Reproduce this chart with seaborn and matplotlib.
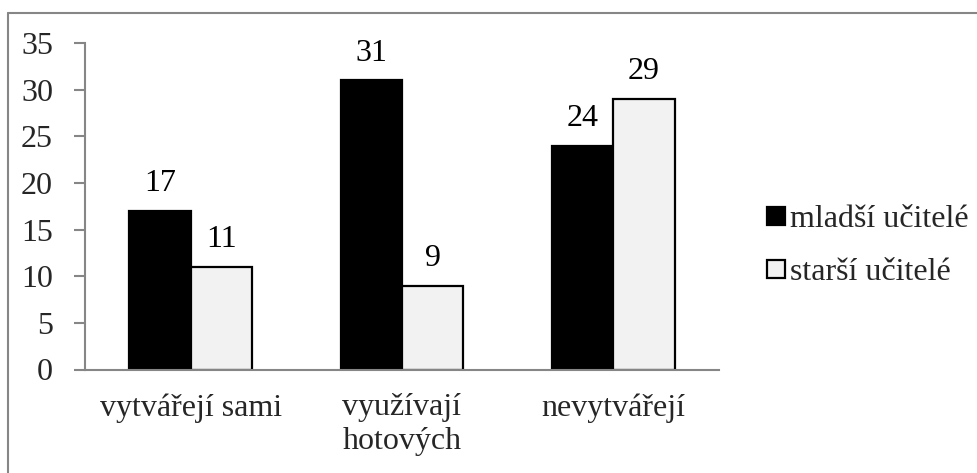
import pandas as pd
import matplotlib.pyplot as plt
import seaborn as sns
from matplotlib.lines import Line2D

# data
categories = ['vytvářejí sami', 'využívají\nhotových', 'nevytvářejí']
groups = ['mladší učitelé', 'starší učitelé']
mladsi = [17, 31, 24]
starsi = [11, 9, 29]

df = pd.DataFrame({
    'kategorie': categories * 2,
    'skupina': [groups[0]] * 3 + [groups[1]] * 3,
    'pocet': mladsi + starsi,
})

FS = 23

sns.set_theme(style='white')
plt.rcParams['font.family'] = ['Liberation Serif', 'DejaVu Serif']
plt.rcParams['font.size'] = FS

W, H = 977, 473
fig = plt.figure(figsize=(W / 100, H / 100), dpi=100)
ax = fig.add_axes([85 / W, 1 - 369.5 / H, (719 - 85) / W, (369.5 - 43) / H])

sns.barplot(data=df, x='kategorie', y='pocet', hue='skupina',
            palette=['#000000', '#f2f2f2'], width=0.58, gap=0,
            edgecolor='black', linewidth=1.6, ax=ax, legend=True)

for cont in ax.containers:
    ax.bar_label(cont, padding=9, fontsize=FS, color='black')

ax.set_ylim(0, 35)
ax.set_yticks(range(0, 36, 5))
ax.set_xlim(-0.5, 2.5)
ax.set_xlabel('')
ax.set_ylabel('')

axis_col = '#868686'
for side in ['top', 'right']:
    ax.spines[side].set_visible(False)
for side in ['left', 'bottom']:
    ax.spines[side].set_color(axis_col)
    ax.spines[side].set_linewidth(1.5)

# x ticks at category boundaries
ax.set_xticks([-0.5, 0.5, 1.5, 2.5], minor=False)
ax.set_xticklabels([])
ax.set_xticks([0, 1, 2], minor=True)
ax.set_xticklabels(categories, minor=True)
ax.tick_params(axis='x', which='major', length=10, width=1.5, color=axis_col, direction='out')
ax.tick_params(axis='x', which='minor', length=0, pad=17, labelsize=FS)
ax.tick_params(axis='y', length=8, width=1.5, color=axis_col, direction='out',
               pad=15, labelsize=FS, left=True)
for lab in ax.get_xticklabels(minor=True):
    lab.set_linespacing(1.2)

ax.legend_.remove()
handles = [Line2D([], [], marker='s', linestyle='none', markersize=13,
                  markerfacecolor=c, markeredgecolor='black', markeredgewidth=1.6)
           for c in ['#000000', '#f2f2f2']]
fig.legend(handles, groups, loc='center left', bbox_to_anchor=(750 / W, 1 - 246 / H),
           frameon=False, fontsize=FS, handlelength=0.6, handletextpad=0.15,
           labelspacing=0.75, borderpad=0)

# outer chart frame (only left and top edges are visible)
fig.add_artist(Line2D([8 / W, 8 / W], [0, 1 - 13 / H], color=axis_col, lw=1.5))
fig.add_artist(Line2D([8 / W, 1], [1 - 13 / H, 1 - 13 / H], color=axis_col, lw=1.5))

fig.savefig('out.png', dpi=100)
